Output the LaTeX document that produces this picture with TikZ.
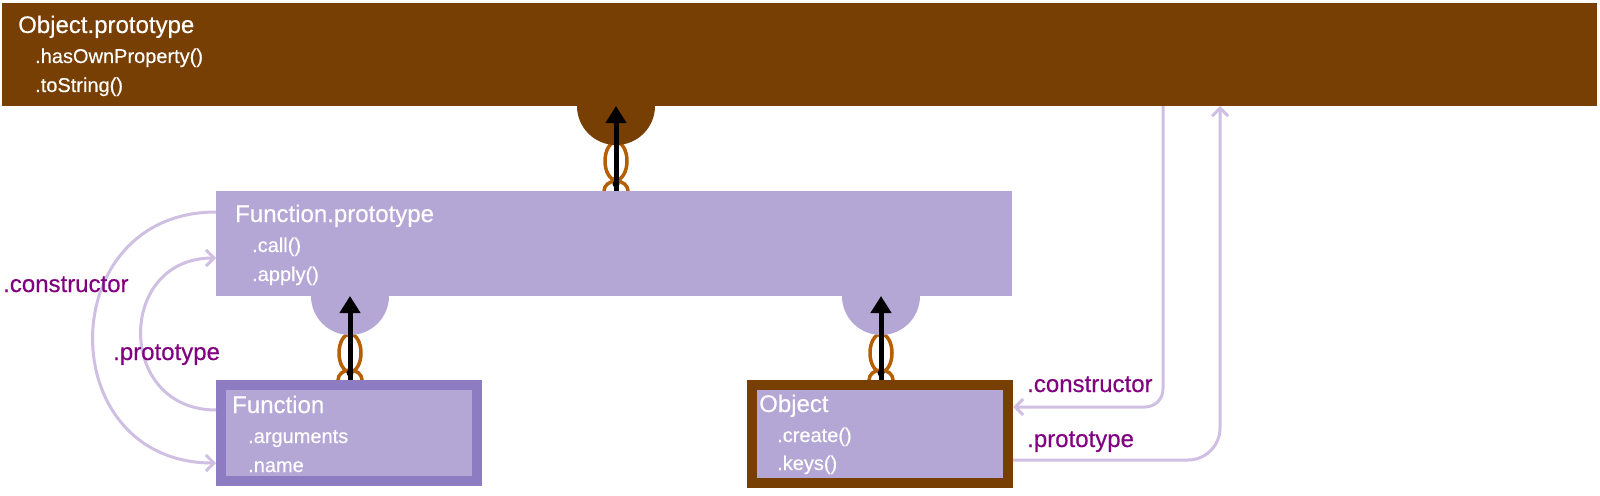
\documentclass[tikz,border=0pt]{standalone}
\usepackage{fontspec}
\setmainfont[FakeBold=0.35]{Liberation Sans}
\usetikzlibrary{arrows.meta}
\definecolor{brownbox}{HTML}{783F04}
\definecolor{lilac}{HTML}{B4A7D6}
\definecolor{lilacdark}{HTML}{8E7CC3}
\definecolor{chaincol}{HTML}{B45F06}
\definecolor{linkcol}{HTML}{CFBFE2}
\definecolor{lblcol}{HTML}{800080}
\begin{document}
\begin{tikzpicture}[x=1pt,y=-1pt,
  boxtitle/.style={anchor=base west, text=white, font=\fontsize{24}{28}\selectfont, inner sep=0},
  boxitem/.style={anchor=base west, text=white, font=\fontsize{20}{24}\selectfont, inner sep=0},
  edgelabel/.style={anchor=base west, text=lblcol, font=\fontsize{24}{28}\selectfont, inner sep=0},
  knob/.style={circle, inner sep=0, minimum size=78pt},
  chainring/.style={draw=chaincol, line width=3.5pt},
  inherit/.style={line width=5pt, black, -{Triangle[width=20pt,length=17pt]}},
  ptrline/.style={draw=linkcol, line width=3pt, -{Straight Barb[length=8pt,width=16pt]}},
]
\useasboundingbox (0,0) rectangle (1600,495);

% chains (behind knobs and boxes)
\foreach \cx/\ct/\cb in {616/161/191, 350/353/380, 881/353/380}{
  \draw[chainring] (\cx,\ct) ellipse [x radius=11, y radius=19];
  \draw[chainring] (\cx,\cb) ellipse [x radius=12, y radius=10];
}

% knobs
\node[knob, fill=brownbox] (k1) at (616,106) {};
\node[knob, fill=lilac] (k2) at (350,296) {};
\node[knob, fill=lilac] (k3) at (881,296) {};

% boxes
\node[fill=brownbox, inner sep=0, outer sep=0, anchor=north west, minimum width=1595pt, minimum height=103pt] (op) at (2,3) {};
\node[fill=lilac, inner sep=0, outer sep=0, anchor=north west, minimum width=796pt, minimum height=105pt] (fp) at (216,191) {};
\node[fill=lilac, draw=lilacdark, line width=10pt, inner sep=0, outer sep=5pt, anchor=north west, minimum width=256pt, minimum height=96pt] (fn) at (216,380) {};
\node[fill=lilac, draw=brownbox, line width=10pt, inner sep=0, outer sep=5pt, anchor=north west, minimum width=256pt, minimum height=98pt] (obj) at (747,380) {};

% inheritance arrows
\draw[inherit] (fp.north -| k1) -- (k1.center);
\draw[inherit] (fn.north -| k2) -- (k2.center);
\draw[inherit] (obj.north -| k3) -- (k3.center);

% chain dots
\fill[black] (616,184) circle [radius=3.5];
\fill[black] (350,373) circle [radius=3.5];
\fill[black] (881,373) circle [radius=3.5];

% helper coordinates
\coordinate (yA) at (0,212);
\coordinate (yB) at (0,463);
\coordinate (yC) at (0,410);
\coordinate (yD) at (0,258);
\coordinate (cR1) at (1163,407);
\coordinate (cR2) at (1220,460);

% reference connectors
\draw[ptrline] (fp.west |- yA) .. controls (52,212) and (52,463) .. (fn.west |- yB);
\draw[ptrline] (fn.west |- yC) .. controls (116,410) and (116,258) .. (fp.west |- yD);
\draw[ptrline, rounded corners=18pt] (op.south -| cR1) |- (obj.east |- cR1);
\draw[ptrline, rounded corners=32pt] (obj.east |- cR2) -| (op.south -| cR2);

% texts
\node[boxtitle] (t1) at (18,33) {Object.prototype};
\node[boxitem] (t1a) at (35,63) {.hasOwnProperty()};
\node[boxitem] (t1b) at (35,92) {.toString()};

\node[boxtitle] (t2) at (235,222) {Function.prototype};
\node[boxitem] (t2a) at (252,252) {.call()};
\node[boxitem] (t2b) at (252,281) {.apply()};

\node[boxtitle] (t3) at (232,413) {Function};
\node[boxitem] (t3a) at (248,443) {.arguments};
\node[boxitem] (t3b) at (248,472) {.name};

\node[boxtitle] (t4) at (759,412) {Object};
\node[boxitem] (t4a) at (777,442) {.create()};
\node[boxitem] (t4b) at (777,470) {.keys()};

\node[edgelabel] (l1) at (3,292) {.constructor};
\node[edgelabel] (l2) at (113,360) {.prototype};
\node[edgelabel] (l3) at (1027,392) {.constructor};
\node[edgelabel] (l4) at (1027,447) {.prototype};
\end{tikzpicture}
\end{document}
